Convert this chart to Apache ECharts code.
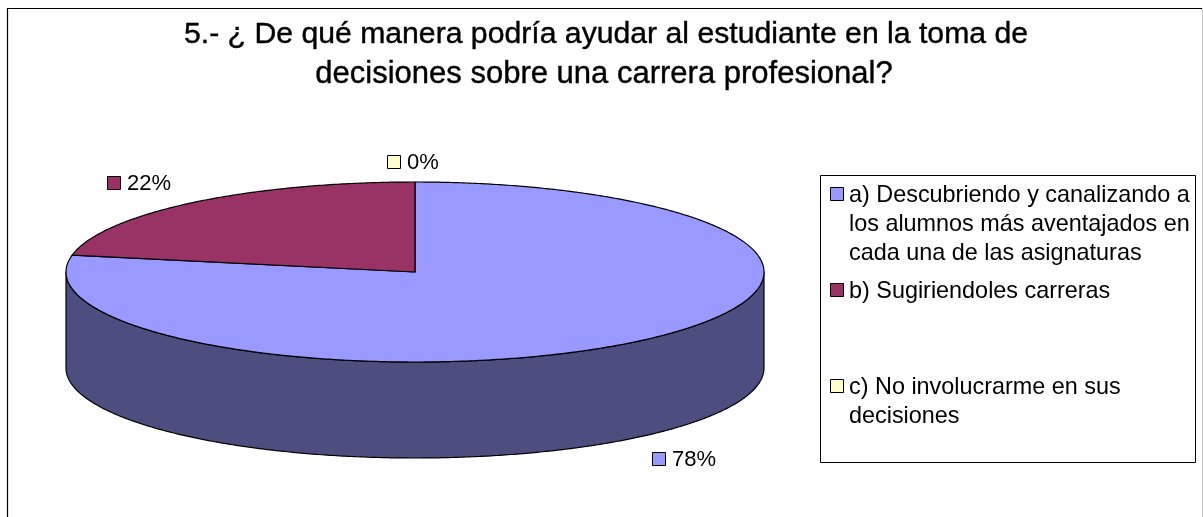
<!DOCTYPE html>
<html>
<head>
<meta charset="utf-8">
<style>
  html, body { margin: 0; padding: 0; background: #fff; }
  #chart { width: 1203px; height: 517px; }
</style>
<script src="https://cdn.jsdelivr.net/npm/echarts@6/dist/echarts.min.js"></script>
</head>
<body>
<div id="chart"></div>
<script>
// data
var titleLines = ['5.- ¿ De qué manera podría ayudar al estudiante en la toma de', 'decisiones sobre una carrera profesional?']
var categories = [
  'a) Descubriendo y canalizando a\nlos alumnos más aventajados en\ncada una de las asignaturas',
  'b) Sugiriendoles carreras',
  'c) No involucrarme en sus\ndecisiones'
]
var percents = [78, 22, 0]

// look
var topColors = ['#9999ff', '#993366', '#ffffcc']
var wallColors = ['#4d4d80', '#4d1a33', '#808066']
var font = '"Liberation Sans", Arial, sans-serif'

// pie geometry
var cx = 415, cy = 272, rx = 349, ry = 90, depth = 96
// top-left of the marker square next to each percent label
var labelPos = [[652, 452], [107, 176], [387, 155]]

var total = percents.reduce(function (a, b) { return a + b }, 0)

function rim (deg, drop) {
  var t = deg * Math.PI / 180
  return [cx + rx * Math.sin(t), cy - ry * Math.cos(t) + (drop || 0)]
}

function arc (from, to, drop) {
  var pts = []
  var n = Math.max(1, Math.ceil(Math.abs(to - from) * 2))
  for (var i = 0; i <= n; i++) {
    pts.push(rim(from + (to - from) * i / n, drop))
  }
  return pts
}

function renderSlice (params, api) {
  var idx = params.dataIndex
  var val = api.value(1)
  var before = 0
  for (var i = 0; i < idx; i++) before += percents[i]
  var start = before / total * 360
  var end = (before + val) / total * 360
  var children = []
  var lineStyle = { stroke: '#000', lineWidth: 1.2, lineJoin: 'round' }

  if (val > 0) {
    // side wall, only the part facing the viewer
    var wallFrom = Math.max(start, 90)
    var wallTo = Math.min(end, 270)
    if (wallTo > wallFrom) {
      children.push({
        type: 'polygon',
        shape: { points: arc(wallFrom, wallTo, 0).concat(arc(wallTo, wallFrom, depth)) },
        style: Object.assign({ fill: wallColors[idx] }, lineStyle)
      })
    }
    children.push({
      type: 'polygon',
      shape: { points: [[cx, cy]].concat(arc(start, end, 0)) },
      style: Object.assign({ fill: topColors[idx] }, lineStyle)
    })
  }

  var p = labelPos[idx]
  children.push({
    type: 'rect',
    shape: { x: p[0] + 0.5, y: p[1] + 0.5, width: 13, height: 13 },
    style: { fill: topColors[idx], stroke: '#000', lineWidth: 1 }
  })
  children.push({
    type: 'text',
    x: p[0] + 20,
    y: p[1] + 8,
    style: { text: val + '%', fill: '#000', font: '22px ' + font, align: 'left', verticalAlign: 'middle' }
  })
  return { type: 'group', children: children }
}

// legend keeps Excel's evenly spaced rows, so it is laid out by hand
var legendBox = { x: 820.5, y: 175.5, width: 375, height: 287 }
var legendRowTop = 194, legendRowGap = 96, legendLine = 29
var legendItems = []
categories.forEach(function (name, i) {
  var y = legendRowTop + i * legendRowGap
  legendItems.push({
    type: 'rect',
    shape: { x: 830.5, y: y - 6.5, width: 13, height: 13 },
    style: { fill: topColors[i], stroke: '#000', lineWidth: 1 }
  })
  legendItems.push({
    type: 'text',
    x: 849,
    y: y - legendLine / 2 + 1.5,
    style: { text: name, fill: '#000', font: '23.4px ' + font, lineHeight: legendLine, align: 'left', verticalAlign: 'top' }
  })
})

function titleLine (text, left, top, size) {
  return {
    text: text,
    left: left,
    top: top,
    textAlign: 'center',
    textStyle: {
      color: '#000',
      fontFamily: font,
      fontWeight: 'normal',
      fontSize: size,
      textBorderColor: '#000',
      textBorderWidth: 0.4
    }
  }
}

var chart = echarts.init(document.getElementById('chart'), null, { renderer: 'canvas' })
chart.setOption({
  animation: false,
  backgroundColor: '#fff',
  title: [
    titleLine(titleLines[0], 601, 15, 30.2),
    titleLine(titleLines[1], 599, 54, 31)
  ],
  graphic: [
    {
      type: 'polyline',
      shape: { points: [[1202.5, 8], [1202.5, 517]] },
      style: { stroke: '#c4c4c4', lineWidth: 1, fill: 'none' },
      silent: true
    },
    {
      type: 'polyline',
      shape: { points: [[7.5, 517], [7.5, 8.5], [1202, 8.5]] },
      style: { stroke: '#000', lineWidth: 1.2, fill: 'none' },
      silent: true
    },
    {
      type: 'rect',
      shape: legendBox,
      style: { fill: '#fff', stroke: '#000', lineWidth: 1 },
      silent: true
    }
  ].concat(legendItems),
  series: [{
    type: 'custom',
    coordinateSystem: 'none',
    renderItem: renderSlice,
    silent: true,
    data: percents.map(function (v, i) { return [i, v] })
  }]
})
</script>
</body>
</html>
